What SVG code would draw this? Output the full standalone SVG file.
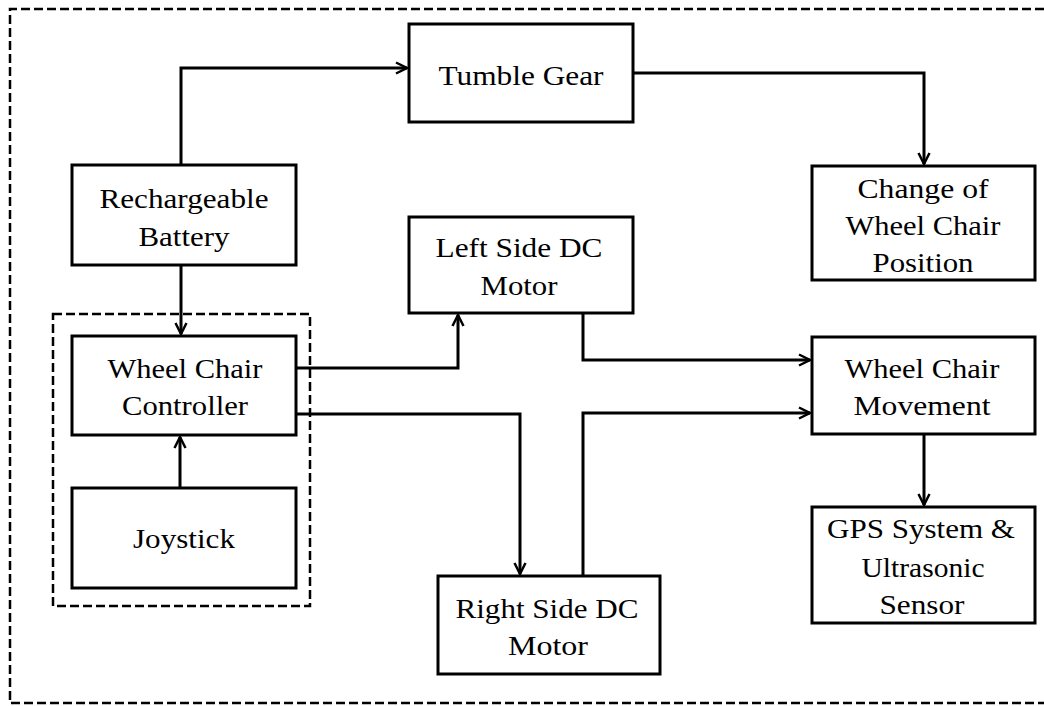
<svg xmlns="http://www.w3.org/2000/svg" width="1044" height="706" viewBox="0 0 1044 706">
<style>
.box{fill:#fff;stroke:#000;stroke-width:3}
.t{font-family:"Liberation Serif","Times New Roman",serif;font-size:27px;fill:#000;text-anchor:middle}
.conn path{fill:none;stroke:#000;stroke-width:3;marker-end:url(#arr)}
.dash{fill:none;stroke:#000;stroke-width:2.5;stroke-dasharray:9 4}
</style>
<defs>
<marker id="arr" markerUnits="userSpaceOnUse" markerWidth="16" markerHeight="16" refX="12" refY="6" orient="auto" overflow="visible">
<path d="M1,0.5 L12,6 L1,11.5" fill="none" stroke="#000" stroke-width="2.5"/>
</marker>
</defs>
<rect width="1044" height="706" fill="#fff"/>
<path class="dash" d="M1044,9 H10 V703 H1044"/>
<rect id="controlUnit" class="dash" x="53" y="314" width="257" height="292"/>

<g class="conn">
<path d="M181,165 V68 H407"/>
<path d="M633,73 H924 V164"/>
<path d="M181,265 V334"/>
<path d="M180,488 V437"/>
<path d="M296,368 H458 V315"/>
<path d="M296,414 H520 V574"/>
<path d="M583,313 V360 H810"/>
<path d="M583,576 V413 H810"/>
<path d="M924,434 V505"/>
</g>

<g id="battery">
<rect class="box" x="72" y="165" width="224" height="100"/>
<text class="t" x="184" y="208" textLength="169" lengthAdjust="spacingAndGlyphs">Rechargeable</text>
<text class="t" x="184" y="246" textLength="91" lengthAdjust="spacingAndGlyphs">Battery</text>
</g>
<g id="tumbleGear">
<rect class="box" x="409" y="24" width="224" height="98"/>
<text class="t" x="521" y="85" textLength="165" lengthAdjust="spacingAndGlyphs">Tumble Gear</text>
</g>
<g id="changePosition">
<rect class="box" x="812" y="166" width="223" height="114"/>
<text class="t" x="923" y="198" textLength="131" lengthAdjust="spacingAndGlyphs">Change of</text>
<text class="t" x="923" y="235" textLength="155" lengthAdjust="spacingAndGlyphs">Wheel Chair</text>
<text class="t" x="923" y="272" textLength="101" lengthAdjust="spacingAndGlyphs">Position</text>
</g>
<g id="leftMotor">
<rect class="box" x="409" y="217" width="224" height="96"/>
<text class="t" x="519" y="257" textLength="167" lengthAdjust="spacingAndGlyphs">Left Side DC</text>
<text class="t" x="519" y="295" textLength="77" lengthAdjust="spacingAndGlyphs">Motor</text>
</g>
<g id="controller">
<rect class="box" x="72" y="336" width="224" height="99"/>
<text class="t" x="185" y="378" textLength="155" lengthAdjust="spacingAndGlyphs">Wheel Chair</text>
<text class="t" x="185" y="415" textLength="126" lengthAdjust="spacingAndGlyphs">Controller</text>
</g>
<g id="joystick">
<rect class="box" x="72" y="488" width="224" height="100"/>
<text class="t" x="184" y="548" textLength="102" lengthAdjust="spacingAndGlyphs">Joystick</text>
</g>
<g id="movement">
<rect class="box" x="812" y="337" width="223" height="97"/>
<text class="t" x="922" y="378" textLength="155" lengthAdjust="spacingAndGlyphs">Wheel Chair</text>
<text class="t" x="922" y="415" textLength="137" lengthAdjust="spacingAndGlyphs">Movement</text>
</g>
<g id="gps">
<rect class="box" x="812" y="507" width="223" height="116"/>
<text class="t" x="921" y="538" textLength="188" lengthAdjust="spacingAndGlyphs">GPS System &amp;</text>
<text class="t" x="923" y="577" textLength="123" lengthAdjust="spacingAndGlyphs">Ultrasonic</text>
<text class="t" x="922" y="614" textLength="85" lengthAdjust="spacingAndGlyphs">Sensor</text>
</g>
<g id="rightMotor">
<rect class="box" x="438" y="576" width="222" height="98"/>
<text class="t" x="547" y="618" textLength="183" lengthAdjust="spacingAndGlyphs">Right Side DC</text>
<text class="t" x="548" y="655" textLength="80" lengthAdjust="spacingAndGlyphs">Motor</text>
</g>
</svg>
